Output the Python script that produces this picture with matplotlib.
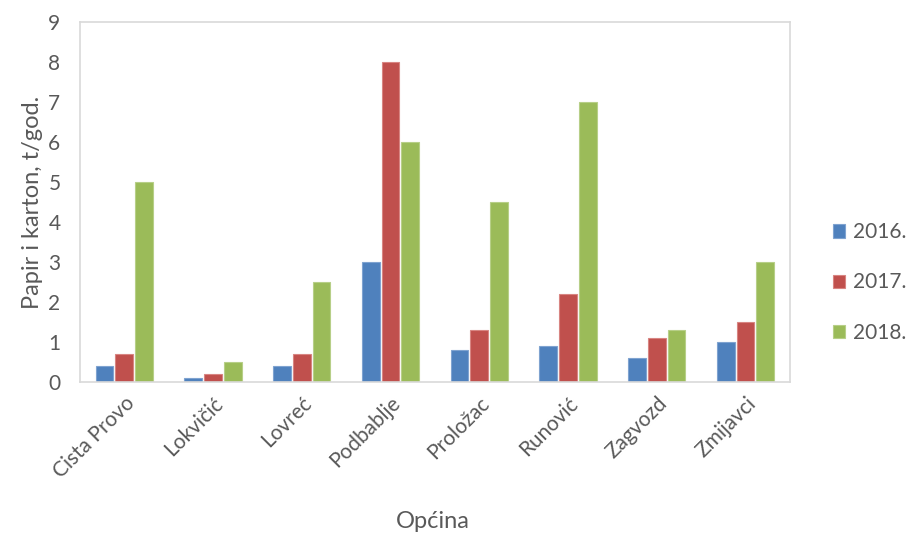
import numpy as np
import matplotlib.pyplot as plt

plt.rcParams['font.family'] = ['Lato', 'DejaVu Sans']

opcine = ['Cista Provo', 'Lokvičić', 'Lovreć', 'Podbablje', 'Proložac', 'Runović', 'Zagvozd', 'Zmijavci']
god_2016 = [0.4, 0.1, 0.4, 3.0, 0.8, 0.9, 0.6, 1.0]
god_2017 = [0.7, 0.2, 0.7, 8.0, 1.3, 2.2, 1.1, 1.5]
god_2018 = [5.0, 0.5, 2.5, 6.0, 4.5, 7.0, 1.3, 3.0]
serije = ['2016.', '2017.', '2018.']

boje = ['#4F81BD', '#C0504D', '#9BBB59']
rubovi = ['#7FA3D0', '#D88582', '#B7CF88']

fig = plt.figure(figsize=(9.08, 5.33), dpi=100)
ax = fig.add_axes([0.088, 0.283, 0.782, 0.676])

x = np.arange(len(opcine))
sirina = 0.2
razmak = 0.222
for i, (vals, lab) in enumerate(zip([god_2016, god_2017, god_2018], serije)):
    ax.bar(x + (i - 1) * razmak, vals, sirina, color=boje[i], edgecolor=rubovi[i],
           linewidth=0.8, label=lab)

ax.set_xlim(-0.5, len(opcine) - 0.5)
ax.set_ylim(0, 9)
ax.set_yticks(range(10))
ax.set_xticks(x)
ax.set_xticklabels(opcine, rotation=45, ha='right', rotation_mode='anchor')
ax.tick_params(axis='both', length=0, labelsize=15, colors='#595959')
ax.tick_params(axis='x', pad=8)
ax.tick_params(axis='y', pad=14)
for s in ax.spines.values():
    s.set_color('#D9D9D9')
    s.set_linewidth(1.2)

ax.set_ylabel('Papir i karton, t/god.', fontsize=17, color='#595959', labelpad=4)
fig.text(0.477, 0.01, 'Općina', fontsize=17, color='#595959', ha='center')

leg = ax.legend(loc='center left', bbox_to_anchor=(0.908, 0.47), bbox_transform=fig.transFigure,
                frameon=False, fontsize=15, handlelength=0.6, handleheight=0.6,
                handletextpad=0.35, labelspacing=1.45, borderaxespad=0)
for t in leg.get_texts():
    t.set_color('#595959')

fig.savefig('out.png', dpi=100)
